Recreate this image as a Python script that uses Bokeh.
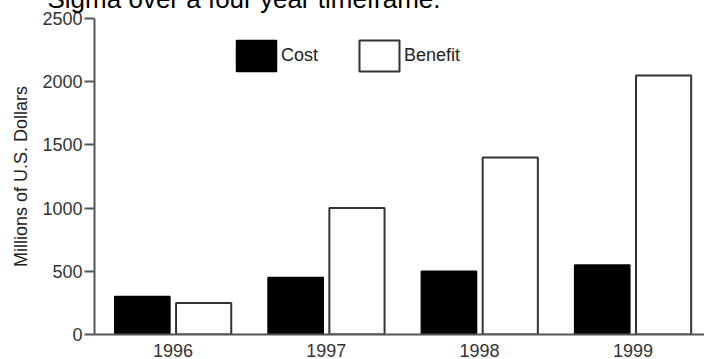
from bokeh.plotting import figure
from bokeh.models import (ColumnDataSource, Range1d, FixedTicker, Legend, LegendItem)
from bokeh.transform import dodge
from bokeh.embed import file_html
from bokeh.resources import INLINE

years = ["1996", "1997", "1998", "1999"]
cost = [300, 450, 500, 550]
benefit = [250, 1000, 1400, 2050]
y_ticks = [0, 500, 1000, 1500, 2000, 2500]
title_text = "Sigma over a four year timeframe."
y_label = "Millions of U.S. Dollars"

FONT = "Liberation Sans"

xs = list(range(len(years)))
src = ColumnDataSource(data=dict(x=xs, cost=cost, benefit=benefit))

p = figure(width=696, height=382, output_backend="svg", toolbar_location=None,
           x_range=Range1d(-0.512, 3.467), y_range=Range1d(0, 2500),
           min_border_left=82, min_border_right=0, min_border_top=0,
           min_border_bottom=23, outline_line_color=None,
           background_fill_color="white", border_fill_color="white")
p.styles = {"margin-top": "-23px", "margin-bottom": "-30px", "margin-left": "8px"}

p.title.text = title_text
p.title.text_font = FONT
p.title.text_font_size = "26px"
p.title.text_font_style = "normal"
p.title.text_color = "black"
p.title.align = "left"
p.title.offset = -47
p.title.standoff = 9

p.xgrid.visible = False
p.ygrid.visible = False

r_cost = p.vbar(x=dodge("x", -0.2), top="cost", width=0.36, source=src,
                fill_color="black", line_color="black", line_width=1.5)
r_ben = p.vbar(x=dodge("x", 0.2), top="benefit", width=0.36, source=src,
               fill_color="white", line_color="#333333", line_width=2)

# axes
p.xaxis.ticker = FixedTicker(ticks=xs)
p.xaxis.major_label_overrides = {i: y for i, y in enumerate(years)}
p.xaxis.major_tick_line_color = None
p.xaxis.minor_tick_line_color = None
p.xaxis.major_label_standoff = 3
p.xaxis.axis_line_color = "#555555"
p.xaxis.axis_line_width = 2

p.yaxis.ticker = FixedTicker(ticks=y_ticks)
p.yaxis.major_tick_out = 10
p.yaxis.major_tick_in = 0
p.yaxis.minor_tick_line_color = None
p.yaxis.major_tick_line_color = "#555555"
p.yaxis.major_tick_line_width = 2
p.yaxis.axis_line_color = "#555555"
p.yaxis.axis_line_width = 2
p.yaxis.major_label_standoff = 2
p.yaxis.axis_label = y_label
p.yaxis.axis_label_standoff = 8
p.yaxis.axis_label_text_font = FONT
p.yaxis.axis_label_text_font_size = "18px"
p.yaxis.axis_label_text_font_style = "normal"
p.yaxis.axis_label_text_color = "#222222"

for ax in (p.xaxis, p.yaxis):
    ax.major_label_text_font = FONT
    ax.major_label_text_font_size = "18px"
    ax.major_label_text_color = "#333333"

legend = Legend(items=[LegendItem(label="Cost", renderers=[r_cost]),
                       LegendItem(label="Benefit", renderers=[r_ben])],
                orientation="horizontal", location=(137, 259),
                glyph_width=50, glyph_height=39, label_standoff=0, spacing=36,
                padding=0, margin=0, border_line_color=None,
                background_fill_alpha=0, label_text_font=FONT,
                label_text_font_size="18px", label_text_color="#222222")
p.add_layout(legend, "center")

open("out.html", "w").write(file_html(p, INLINE))
